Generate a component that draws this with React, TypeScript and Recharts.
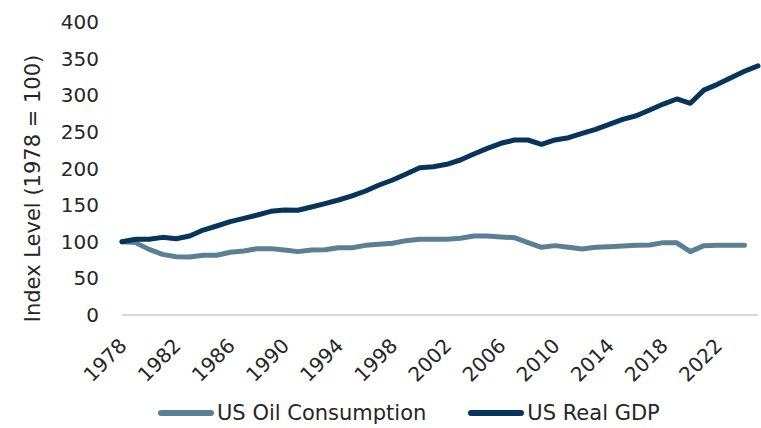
import React from "react"
import { LineChart, Line, XAxis, YAxis, Legend } from "recharts"

const years = [
  "1978", "1979", "1980", "1981", "1982", "1983", "1984", "1985", "1986", "1987",
  "1988", "1989", "1990", "1991", "1992", "1993", "1994", "1995", "1996", "1997",
  "1998", "1999", "2000", "2001", "2002", "2003", "2004", "2005", "2006", "2007",
  "2008", "2009", "2010", "2011", "2012", "2013", "2014", "2015", "2016", "2017",
  "2018", "2019", "2020", "2021", "2022", "2023", "2024", "2025",
]

const oilConsumption = [
  100, 98.8, 89.6, 82.8, 79.6, 79.2, 81.5, 81.5, 85.6, 87.4,
  90.6, 90.6, 88.7, 86.5, 88.7, 89, 91.9, 91.9, 95.1, 96.5,
  97.9, 101.5, 103.3, 103.3, 103.3, 104.7, 107.8, 107.8, 106.5, 105.6,
  98.8, 92.4, 94.7, 92.4, 90.1, 92.4, 93.3, 94.2, 95.1, 95.6,
  98.8, 98.5, 86.5, 94.7, 95.1, 95.1, 95.1,
]

const realGdp = [
  100, 103.3, 103.3, 106, 104, 107.8, 116, 121.5, 127.4, 132,
  136.5, 141.5, 143.3, 143, 147.4, 152, 157, 162.5, 169.3, 177.5,
  184.3, 192.5, 201.1, 202.5, 205.7, 211.6, 219.8, 227.5, 234.4, 238.9,
  238.9, 233, 239, 242, 248, 253.5, 260.3, 267.1, 272, 279.9,
  288, 294.9, 289, 307, 314.9, 324, 332.7, 340,
]

const yTicks = [0, 50, 100, 150, 200, 250, 300, 350, 400]

const OIL_COLOR = "#5b7f94"
const GDP_COLOR = "#07345a"
const TEXT_COLOR = "#262626"
const FONT = "'DejaVu Sans', sans-serif"

const data = years.map((year, i) => ({
  year,
  oil: i < oilConsumption.length ? oilConsumption[i] : null,
  gdp: realGdp[i],
}))

// rotated year labels, like Excel's -45deg axis text
function YearTick({ x, y, payload }: any) {
  return (
    <g transform={`translate(${x + 6},${y + 32})`}>
      <text
        transform="rotate(-45)"
        textAnchor="end"
        fill={TEXT_COLOR}
        fontSize={20}
        fontFamily={FONT}
      >
        {payload.value}
      </text>
    </g>
  )
}

function AxisTitle({ viewBox }: any) {
  const cx = viewBox.x + 40
  const cy = viewBox.y + viewBox.height / 2 + 20
  return (
    <text
      x={cx}
      y={cy}
      transform={`rotate(-90, ${cx}, ${cy})`}
      textAnchor="middle"
      fill={TEXT_COLOR}
      fontSize={21}
      fontFamily={FONT}
    >
      Index Level (1978 = 100)
    </text>
  )
}

const legendItems = [
  { label: "US Oil Consumption", color: OIL_COLOR },
  { label: "US Real GDP", color: GDP_COLOR },
]

function ChartLegend() {
  return (
    <div
      style={{
        display: "flex",
        alignItems: "center",
        height: 30,
        paddingLeft: 158,
        fontFamily: FONT,
        fontSize: 21,
        color: TEXT_COLOR,
      }}
    >
      {legendItems.map((item, i) => (
        <div
          key={item.label}
          style={{ display: "flex", alignItems: "center", marginRight: i === 0 ? 42 : 0 }}
        >
          <svg width={56} height={10} style={{ marginRight: 3 }}>
            <line x1={3} y1={5} x2={53} y2={5} stroke={item.color} strokeWidth={6} strokeLinecap="round" />
          </svg>
          <span>{item.label}</span>
        </div>
      ))}
    </div>
  )
}

export default function App() {
  return (
    <div style={{ position: "absolute", left: 0, top: 0, width: 761, height: 428, background: "#fff" }}>
      <LineChart
        width={761}
        height={428}
        data={data}
        margin={{ top: 22, right: 3, left: 0, bottom: 0 }}
      >
        <XAxis
          dataKey="year"
          interval={3}
          height={83}
          tickLine={false}
          tickSize={0}
          tickMargin={0}
          axisLine={{ stroke: "#d9d9d9", strokeWidth: 2 }}
          tick={<YearTick />}
        />
        <YAxis
          domain={[0, 400]}
          ticks={yTicks}
          width={122}
          axisLine={false}
          tickLine={false}
          tickSize={0}
          tickMargin={23}
          tick={{ fill: TEXT_COLOR, fontSize: 20, fontFamily: FONT }}
          label={<AxisTitle />}
        />
        <Legend verticalAlign="bottom" content={<ChartLegend />} />
        <Line
          type="linear"
          dataKey="oil"
          stroke={OIL_COLOR}
          strokeWidth={5}
          strokeLinecap="round"
          strokeLinejoin="round"
          dot={false}
          activeDot={false}
          isAnimationActive={false}
        />
        <Line
          type="linear"
          dataKey="gdp"
          stroke={GDP_COLOR}
          strokeWidth={5}
          strokeLinecap="round"
          strokeLinejoin="round"
          dot={false}
          activeDot={false}
          isAnimationActive={false}
        />
      </LineChart>
    </div>
  )
}
